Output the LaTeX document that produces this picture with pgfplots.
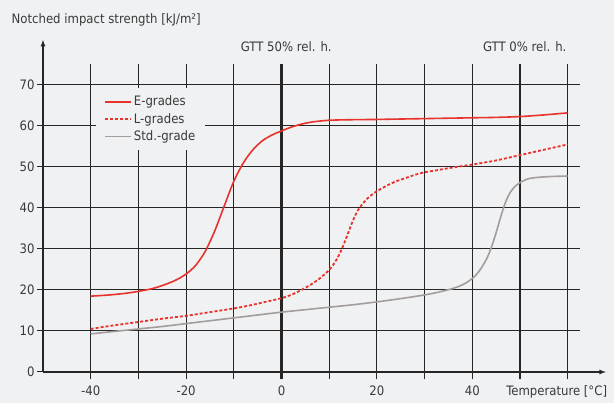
\documentclass[border=0pt]{standalone}
\usepackage{pgfplots}
\pgfplotsset{compat=1.18}
\usepackage{fontspec}
\setmainfont{DejaVu Sans Condensed}

\definecolor{bg}{HTML}{EFF1F3}
\definecolor{gridc}{HTML}{262626}
\definecolor{txt}{HTML}{3A3A3A}
\definecolor{ered}{HTML}{E8322B}
\definecolor{stdgray}{HTML}{A39E9C}

\pgfplotstableread{
x y
-40 18.5
-36 18.8
-32 19.3
-28 20.1
-26 20.7
-24 21.5
-22 22.5
-20 23.9
-18 26.0
-16 29.4
-14 34.4
-12 40.5
-10 46.5
-8 51.0
-6 54.2
-4 56.4
-2 57.8
0 58.8
2 59.7
4 60.4
6 60.9
8 61.2
10 61.4
13 61.5
16 61.55
20 61.6
25 61.7
30 61.8
35 61.9
40 62.0
45 62.1
50 62.3
55 62.7
60 63.2
}\egrades

\pgfplotstableread{
x y
-40 10.5
-35 11.4
-30 12.2
-25 13.0
-20 13.7
-15 14.6
-10 15.5
-6 16.4
-3 17.2
0 18.0
2 18.8
4 19.9
6 21.2
8 22.8
10 24.9
11 26.4
12 28.4
13 31.0
14 34.0
15 37.0
16 39.4
17 41.0
18 42.3
19 43.3
20 44.1
22 45.4
24 46.5
26 47.3
28 48.1
30 48.7
33 49.3
36 49.9
40 50.6
45 51.6
50 52.9
55 54.2
60 55.5
}\lgrades

\pgfplotstableread{
x y
-40 9.3
-35 9.9
-30 10.5
-25 11.1
-20 11.8
-15 12.5
-10 13.2
-5 13.9
0 14.6
5 15.2
10 15.8
15 16.4
20 17.1
25 17.9
30 18.8
33 19.5
36 20.4
38 21.3
40 22.8
41.5 24.7
43 27.6
44 30.4
45 34.0
46 38.0
47 41.5
48 43.9
49 45.3
50 46.2
51 46.8
52 47.2
54 47.5
57 47.7
60 47.8
}\stdgrade

\begin{document}
\begin{tikzpicture}[font=\fontsize{13}{15}\selectfont]
% background, in pt (axis box lower left at 0,0; 1pt ~ 1px)
\fill[bg] (-43pt,-31pt) rectangle (571pt,372pt);
\begin{axis}[
  at={(0,0)}, anchor=south west,
  x=4.77pt, y=4.1pt,
  xmin=-50, xmax=68, ymin=0, ymax=81,
  clip=false,
  axis lines=left,
  axis line style={gridc, line width=1.2pt, -latex},
  xtick={-40,-20,0,20,40},
  ytick={0,10,...,70},
  major tick length=0pt,
  tick style={draw=none},
  /pgf/number format/assume math mode=true,
  ticklabel style={txt, font=\fontsize{13}{15}\selectfont},
  xticklabel style={yshift=-10pt},
  yticklabel style={xshift=-5pt},
  legend style={at={(axis cs:-38.9,69.3)}, anchor=north west,
    fill=bg, draw=none, text=txt, font=\fontsize{13}{15}\selectfont,
    row sep=2pt, inner xsep=8pt, inner ysep=6pt},
  legend cell align=left,
  legend image code/.code={\draw[#1] (0pt,0pt) -- (26pt,0pt);},
]
% grid
\pgfplotsinvokeforeach{10,20,...,70}{
  \draw[gridc, line width=1pt] (axis cs:-51.3,#1) -- (axis cs:62.6,#1);
}
\draw[gridc, line width=1pt] (axis cs:-51.3,0) -- (axis cs:-50,0);
\pgfplotsinvokeforeach{-40,-30,...,60}{
  \draw[gridc, line width=1pt] (axis cs:#1,-1.8) -- (axis cs:#1,75);
}
\draw[gridc, line width=2.2pt] (axis cs:0,-1.8) -- (axis cs:0,75);
\draw[gridc, line width=2.2pt] (axis cs:50,-1.8) -- (axis cs:50,75);

\addplot[ered, line width=1.6pt, smooth] table {\egrades};
\addplot[ered, line width=1.8pt, smooth, dash pattern=on 3pt off 2pt] table {\lgrades};
\addplot[stdgray, line width=1.6pt, smooth] table {\stdgrade};
\legend{E-grades, L-grades, Std.-grade}

\node[anchor=west, txt] at (axis cs:-57.3,85.9) {Notched impact strength [kJ/m²]};
\node[txt] at (axis cs:1,79.3) {GTT 50\% rel. h.};
\node[txt] at (axis cs:51,79.3) {GTT 0\% rel. h.};
\node[txt, fill=bg, inner sep=1pt] at (axis cs:57.7,-4.9) {Temperature [°C]};
\end{axis}
\pgfresetboundingbox
\path[use as bounding box] (-43pt,-31pt) rectangle (571pt,372pt);
\end{tikzpicture}
\end{document}
